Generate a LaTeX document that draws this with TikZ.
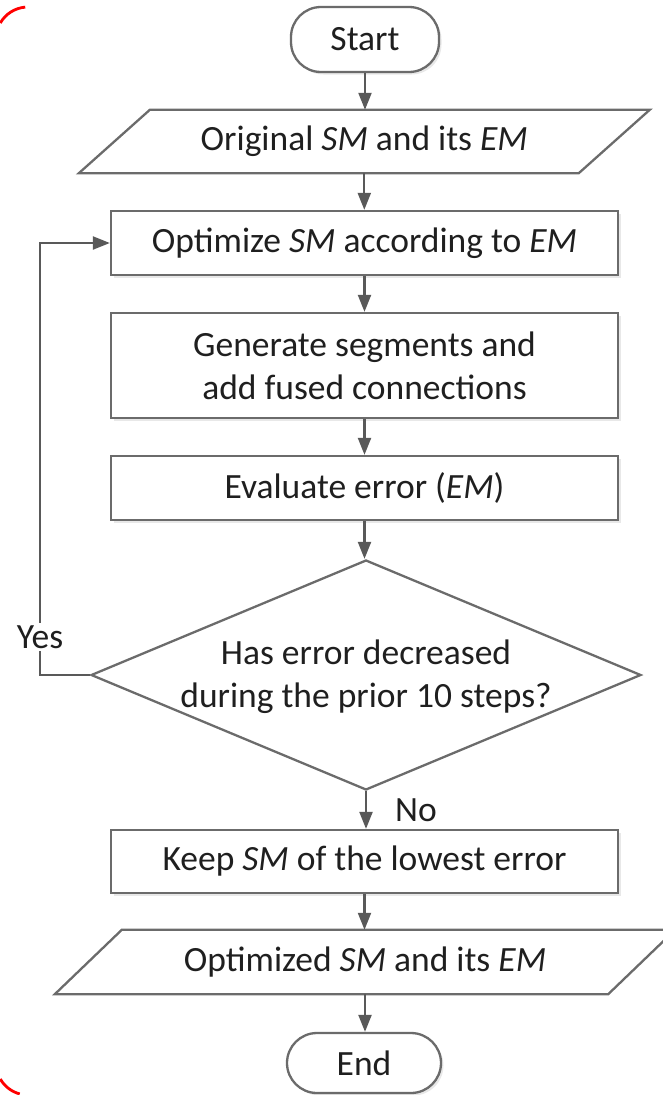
\documentclass[tikz,border=0pt]{standalone}
\usepackage{fontspec}
\setmainfont{Carlito}
\usetikzlibrary{arrows.meta,shadows,shapes.geometric}
\begin{document}
\begin{tikzpicture}[x=1pt,y=-1pt,
  every node/.style={font=\fontsize{35.5}{43}\selectfont, text=black!88},
  boxline/.style={draw=black!58, line width=2.3pt},
  shad/.style={drop shadow={opacity=0.18, shadow xshift=2.5pt, shadow yshift=-2.5pt}},
  procbox/.style={boxline, shad, rectangle, minimum width=507pt, inner sep=0pt, align=center, fill=white},
  termbox/.style={boxline, shad, rectangle, rounded corners=30pt, inner sep=0pt, fill=white},
  iobox/.style={rectangle, inner sep=0pt},
  conn/.style={draw=black!65, line width=2.2pt, -{Triangle[length=17pt,width=13pt]}},
  lbl/.style={inner sep=2pt, fill=white},
  redframe/.style={draw=red, line width=2.8pt},
]
\useasboundingbox (0,0) rectangle (662,1095);

% red frame corners
\draw[redframe] (28,39) ++(210:32) arc[start angle=210, end angle=265, radius=32];
\draw[redframe] (28,1063) ++(150:32) arc[start angle=150, end angle=105, radius=32];

% nodes
\node[termbox, minimum width=148pt, minimum height=65pt] (start) at (365,39.5) {Start};

\node[iobox, minimum width=499.5pt, minimum height=63pt] (in) at (364.3,141.5) {Original \textit{SM} and its \textit{EM}};
\draw[boxline] ([xshift=35.5pt]in.north west) -- ([xshift=35.5pt]in.north east)
  -- ([xshift=-35.5pt]in.south east) -- ([xshift=-35.5pt]in.south west) -- cycle;

\node[procbox, minimum height=64pt] (opt) at (364.5,243) {Optimize \textit{SM} according to \textit{EM}};
\node[procbox, minimum height=105pt] (gen) at (364.5,365.5) {Generate segments and\\add fused connections};
\node[procbox, minimum height=64pt] (eval) at (364.5,488) {Evaluate error (\textit{EM})};

\node[diamond, boxline, inner sep=0pt, minimum width=550pt, minimum height=230pt] (dec) at (366,675) {};
\node[align=center, inner sep=0pt] (dectext) at (366,677) {Has error decreased\\during the prior 10 steps?};

\node[procbox, minimum height=63pt] (keep) at (364.5,861.5) {Keep \textit{SM} of the lowest error};

\node[iobox, minimum width=553pt, minimum height=64pt] (out) at (365,962) {Optimized \textit{SM} and its \textit{EM}};
\draw[boxline] ([xshift=33.5pt]out.north west) -- ([xshift=33.5pt]out.north east)
  -- ([xshift=-33.5pt]out.south east) -- ([xshift=-33.5pt]out.south west) -- cycle;

\node[termbox, minimum width=154pt, minimum height=60pt] (end) at (364,1063) {End};

% connectors
\draw[conn] (start.south) -- (start.south |- in.north);
\draw[conn] (in.north |- in.south) -- (in.north |- opt.north);
\draw[conn] (opt.south) -- (gen.north);
\draw[conn] (gen.south) -- (eval.north);
\draw[conn] (eval.south) -- (eval.south |- dec.north);
\draw[conn] (dec.south) -- (dec.south |- keep.north);
\draw[conn] (keep.south) -- (keep.south |- out.north);
\draw[conn] (out.south) -- (out.south |- end.north);

\coordinate (lx) at (40,675);
\draw[conn] (dec.west) -- (lx) |- (opt.west);

\node[lbl] (yes) at (40,637) {Yes};
\node[inner sep=0pt] (no) at (416,810) {No};
\end{tikzpicture}
\end{document}
